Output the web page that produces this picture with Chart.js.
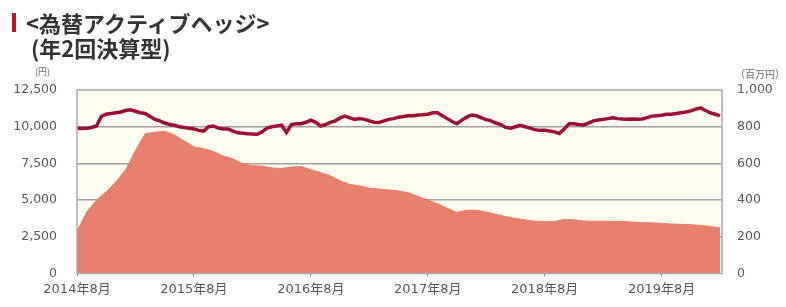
<!DOCTYPE html>
<html><head><meta charset="utf-8">
<script src="https://cdn.jsdelivr.net/npm/chart.js@4"></script>
<style>
html,body{margin:0;padding:0;background:#fff;width:786px;height:307px;overflow:hidden;}
#wrap{position:relative;width:786px;height:307px;}
canvas{position:absolute;left:0;top:0;}
.t{position:absolute;font-family:"Noto Sans CJK JP",sans-serif;color:#333;white-space:nowrap;line-height:1;}
#bar{position:absolute;left:12px;top:13px;width:4px;height:19px;background:#C8102E;}
</style></head>
<body><div id="wrap">
<canvas id="c" width="786" height="307"></canvas>
<div id="bar"></div>
<div class="t" style="left:26px;top:11px;font-size:22px;font-weight:bold;">&lt;為替アクティブヘッジ&gt;</div>
<div class="t" style="left:31px;top:36px;font-size:22px;font-weight:bold;">(年2回決算型)</div>
<div class="t" style="left:35px;top:67px;font-size:9px;color:#666;">(円)</div>
<div class="t" style="left:735px;top:69px;font-size:10px;color:#666;">（百万円）</div>
</div>
<script>
// x-axis tick labels (every 12 months from 2014年8月)
const tickLabels = ["2014年8月","2015年8月","2016年8月","2017年8月","2018年8月","2019年8月"];

// 基準価額 (円), every half month from Aug 2014
const priceValues = [
 9900, 9880, 9900, 9950,10050,10700,10850,10900,10950,11000,11100,11150,
11050,10950,10900,10700,10500,10400,10250,10150,10100,10000, 9950, 9900,
 9850, 9750, 9700,10000,10050, 9900, 9850, 9850, 9700, 9580, 9550, 9520,
 9500, 9480, 9650, 9900,10000,10050,10100, 9600,10150,10200,10200,10300,
10450,10300,10050,10150,10300,10400,10600,10720,10600,10500,10550,10500,
10400,10300,10280,10400,10500,10550,10650,10700,10750,10750,10800,10820,
10850,10950,10950,10750,10550,10350,10200,10450,10650,10800,10750,10600,
10480,10400,10250,10150, 9950, 9900,10000,10100,10000, 9900, 9800, 9750,
 9750, 9700, 9650, 9530, 9850,10200,10200,10150,10120,10250,10400,10450,
10500,10550,10600,10550,10520,10500,10520,10500,10530,10620,10720,10750,
10780,10850,10850,10900,10950,11000,11080,11200,11280,11100,10950,10850,
10750];

// 純資産総額 (百万円), monthly from Aug 2014
const navValues = [
230,335,400,445,500,565,670,762,770,775,755,722,
690,680,665,640,625,598,588,585,575,572,580,583,
565,550,532,505,485,478,465,460,455,450,440,420,
400,380,355,333,345,345,335,322,310,300,292,285,
282,283,295,293,286,285,285,284,283,280,277,276,
273,270,268,266,262,256,248];

const priceMonths = priceValues.map((v,i)=>i*0.5);
const navMonths = navValues.map((v,i)=>i);

const bgPlugin = {
  id:'bg',
  beforeDraw(chart){
    const {ctx, chartArea:a} = chart;
    ctx.save(); ctx.fillStyle='#FFFCF0';
    ctx.fillRect(a.left,a.top,a.right-a.left,a.bottom-a.top); ctx.restore();
  },
  afterDatasetsDraw(chart){
    const {ctx, chartArea:a} = chart;
    ctx.save(); ctx.strokeStyle='#A8A8A8'; ctx.lineWidth=1.5;
    ctx.strokeRect(a.left,a.top,a.right-a.left,a.bottom-a.top); ctx.restore();
  }
};

new Chart(document.getElementById('c'), {
  type:'line',
  data:{
    datasets:[
      {label:'基準価額', data: priceValues.map((v,i)=>({x:priceMonths[i],y:v})), yAxisID:'y',
       borderColor:'#9C1034', borderWidth:3.5, pointRadius:0, tension:0, fill:false},
      {label:'純資産総額', data: navValues.map((v,i)=>({x:navMonths[i],y:v})), yAxisID:'y2',
       borderColor:'#E47C68', backgroundColor:'#E67F6B', borderWidth:1, pointRadius:0, tension:0, fill:'origin'}
    ]
  },
  options:{
    responsive:false, animation:false, devicePixelRatio:1,
    layout:{padding:{top:90,left:0,right:0,bottom:0}},
    plugins:{legend:{display:false}, tooltip:{enabled:false}},
    scales:{
      x:{type:'linear', min:0, max:66.2,
         afterBuildTicks(s){ s.ticks = tickLabels.map((t,i)=>({value:i*12})); },
         afterFit(s){ s.height = 33.5; },
         ticks:{callback:(v)=>tickLabels[Math.round(v/12)], color:'#555', padding:5, maxRotation:0, autoSkip:false,
                font:{family:'"DejaVu Sans","Noto Sans CJK JP"', size:13}},
         grid:{drawOnChartArea:false, drawTicks:true, tickLength:3, color:'#888'},
         border:{display:false}},
      y:{position:'left', min:0, max:12500,
         afterBuildTicks(s){ s.ticks=[0,2500,5000,7500,10000,12500].map(v=>({value:v})); },
         afterFit(s){ s.width = 77; },
         ticks:{callback:(v)=>v.toLocaleString('en-US'), color:'#555', padding:20,
                font:{family:'"DejaVu Sans"', size:12.5}},
         grid:{drawTicks:false, color:(c)=>(c.tick && (c.tick.value===0||c.tick.value===12500))?'rgba(0,0,0,0)':'#A0A0A0',
               lineWidth:1.5, borderDash:[5,6]},
         border:{display:false}},
      y2:{position:'right', min:0, max:1000,
         afterBuildTicks(s){ s.ticks=[0,200,400,600,800,1000].map(v=>({value:v})); },
         afterFit(s){ s.width = 64; },
         ticks:{callback:(v)=>v.toLocaleString('en-US'), color:'#555', padding:15,
                font:{family:'"DejaVu Sans"', size:12.5}},
         grid:{display:false, drawTicks:false},
         border:{display:false}}
    }
  },
  plugins:[bgPlugin]
});
</script>
</body></html>
